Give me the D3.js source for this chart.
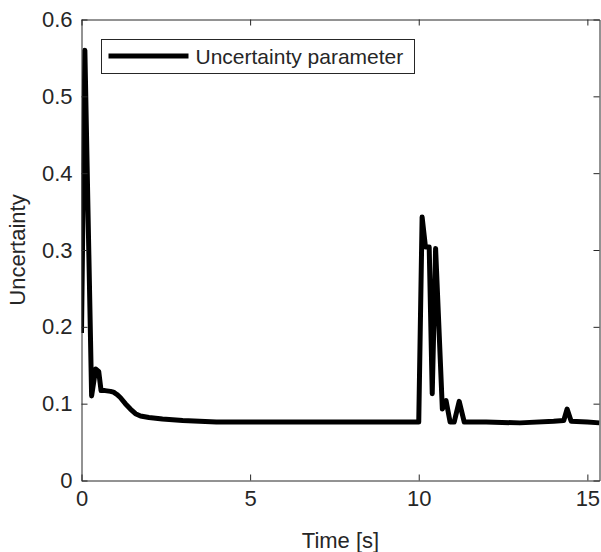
<!DOCTYPE html>
<html>
<head>
<meta charset="utf-8">
<script src="https://cdn.jsdelivr.net/npm/d3@7"></script>
<style>
  body { margin: 0; background: #fff; }
  text { font-family: "Liberation Sans", Arial, sans-serif; fill: #262626; }
</style>
</head>
<body>
<div id="chart"></div>
<script>
const time = [0, 0.1, 0.3, 0.42, 0.51, 0.58, 0.7, 0.86, 0.95, 1.05, 1.15, 1.3, 1.45, 1.6, 1.75, 2.0, 2.4, 3.0, 3.5, 4.0,
    5.0, 6.0, 7.0, 8.0, 9.0, 10.0, 10.1, 10.2, 10.31, 10.4, 10.5, 10.7, 10.81, 10.93, 11.05, 11.2, 11.35,
    12.0, 13.0, 14.0, 14.3, 14.4, 14.52, 15.0, 15.36];
const uncertainty = [0.192, 0.56, 0.11, 0.145, 0.142, 0.117, 0.117, 0.116, 0.115, 0.112, 0.108, 0.1, 0.093, 0.087, 0.084, 0.082, 0.080, 0.078, 0.077, 0.076,
    0.076, 0.076, 0.076, 0.076, 0.076, 0.076, 0.343, 0.304, 0.304, 0.113, 0.302, 0.093, 0.104, 0.076, 0.076, 0.103, 0.076,
    0.076, 0.075, 0.077, 0.078, 0.093, 0.077, 0.076, 0.075];
const xTicks = [0, 5, 10, 15];
const yTicks = [0, 0.1, 0.2, 0.3, 0.4, 0.5, 0.6];
const seriesName = "Uncertainty parameter";

const margin = { top: 19.5, right: 1.5, bottom: 71.5, left: 81.5 };
const width = 601 - margin.left - margin.right;
const height = 552 - margin.top - margin.bottom;
const axisColor = "#262626";

const svg = d3.select("#chart").append("svg")
    .attr("width", 601)
    .attr("height", 552);

const g = svg.append("g")
    .attr("transform", `translate(${margin.left},${margin.top})`);

const x = d3.scaleLinear().domain([0, 15.36]).range([0, width]);
const y = d3.scaleLinear().domain([0, 0.6]).range([height, 0]);

g.append("clipPath").attr("id", "clip")
    .append("rect").attr("width", width).attr("height", height);

// data line
const data = time.map((t, i) => ({ t, v: uncertainty[i] }));
const line = d3.line().x(d => x(d.t)).y(d => y(d.v));
g.append("path")
    .datum(data)
    .attr("clip-path", "url(#clip)")
    .attr("fill", "none")
    .attr("stroke", "#000")
    .attr("stroke-width", 5)
    .attr("stroke-linejoin", "round")
    .attr("d", line);

// axes (inward ticks, boxed)
const fmtY = d => d === 0 ? "0" : d3.format(".1f")(d);
const axisBottomG = g.append("g").attr("transform", `translate(0,${height})`)
    .call(d3.axisBottom(x).tickValues(xTicks).tickFormat(d3.format("d")).tickSizeInner(-6).tickSizeOuter(0).tickPadding(10));
const axisLeftG = g.append("g")
    .call(d3.axisLeft(y).tickValues(yTicks).tickFormat(fmtY).tickSizeInner(-6).tickSizeOuter(0).tickPadding(9));
const axisTopG = g.append("g")
    .call(d3.axisTop(x).tickValues(xTicks).tickFormat("").tickSizeInner(-6).tickSizeOuter(0));
const axisRightG = g.append("g").attr("transform", `translate(${width},0)`)
    .call(d3.axisRight(y).tickValues(yTicks).tickFormat("").tickSizeInner(-6).tickSizeOuter(0));

[axisBottomG, axisLeftG, axisTopG, axisRightG].forEach(a => {
    a.selectAll("path, line").attr("stroke", axisColor);
    a.selectAll("text").style("font-size", "22px").attr("fill", axisColor);
});

// axis titles
svg.append("text")
    .attr("x", margin.left + width / 2)
    .attr("y", 548)
    .attr("text-anchor", "middle")
    .style("font-size", "22px")
    .text("Time [s]");

svg.append("text")
    .attr("transform", `translate(25,${margin.top + height / 2}) rotate(-90)`)
    .attr("text-anchor", "middle")
    .style("font-size", "22px")
    .text("Uncertainty");

// legend
const legend = svg.append("g").attr("transform", "translate(101.5,39.5)");
legend.append("rect")
    .attr("width", 313)
    .attr("height", 34)
    .attr("fill", "#fff")
    .attr("stroke", axisColor)
    .attr("stroke-width", 1);
legend.append("line")
    .attr("x1", 7).attr("x2", 87)
    .attr("y1", 16.5).attr("y2", 16.5)
    .attr("stroke", "#000")
    .attr("stroke-width", 5);
legend.append("text")
    .attr("x", 94)
    .attr("y", 24.5)
    .style("font-size", "21px")
    .attr("fill", "#000")
    .text(seriesName);
</script>
</body>
</html>
